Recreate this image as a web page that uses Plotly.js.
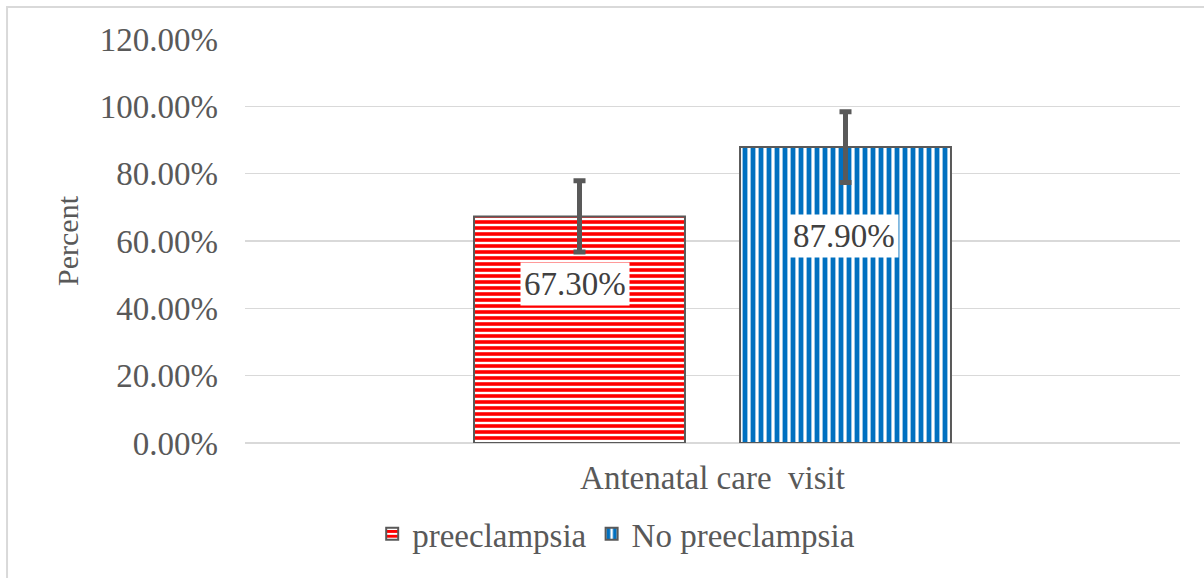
<!DOCTYPE html>
<html>
<head>
<meta charset="utf-8">
<script src="https://cdn.plot.ly/plotly-3.0.1.min.js"></script>
<style>html,body{margin:0;padding:0;background:#fff;}#chart{width:1204px;height:578px;}</style>
</head>
<body>
<div id="chart"></div>
<script>
const categories = ["Antenatal care\u00a0\u00a0visit"];
const seriesNames = ["preeclampsia", "No preeclampsia"];
const preeclampsia = [67.3];
const noPreeclampsia = [87.9];
const preeclampsiaErr = [10.6];
const noPreeclampsiaErr = [10.5];
const yTickVals = [0, 20, 40, 60, 80, 100, 120];
const yTickText = ["0.00%", "20.00%", "40.00%", "60.00%", "80.00%", "100.00%", "120.00%"];

const FONT = "Liberation Serif";
const GRAY = "#595959";
const FS = 33;

const traces = [
  {
    type: "bar", name: seriesNames[0], x: categories, y: preeclampsia,
    marker: {color: "#ffffff", line: {color: GRAY, width: 2},
      pattern: {shape: "-", fgcolor: "#ff0000", bgcolor: "#ffffff", size: 6, solidity: 0.6, fillmode: "replace"}},
    error_y: {type: "data", array: preeclampsiaErr, visible: true, color: GRAY, thickness: 5, width: 6},
    hoverinfo: "none"
  },
  {
    type: "bar", name: seriesNames[1], x: categories, y: noPreeclampsia,
    marker: {color: "#ffffff", line: {color: GRAY, width: 2},
      pattern: {shape: "|", fgcolor: "#0070c0", bgcolor: "#ffffff", size: 8, solidity: 0.6, fillmode: "replace"}},
    error_y: {type: "data", array: noPreeclampsiaErr, visible: true, color: GRAY, thickness: 5, width: 6},
    hoverinfo: "none"
  }
];

const values = [preeclampsia[0], noPreeclampsia[0]];
const annotations = values.map((v, i) => ({
  x: categories[0], y: v * 0.70, xref: "x", yref: "y",
  xshift: i === 0 ? -138 : 131,
  text: v.toFixed(2) + "%", showarrow: false,
  bgcolor: "#ffffff", borderpad: 3,
  font: {family: FONT, size: FS, color: "#404040"}
}));

const layout = {
  width: 1204, height: 578,
  margin: {l: 245, r: 24, t: 39, b: 135},
  paper_bgcolor: "#ffffff", plot_bgcolor: "#ffffff",
  font: {family: FONT, size: FS, color: GRAY},
  barmode: "group", bargap: 0.431, bargroupgap: 0.207,
  xaxis: {type: "category", showgrid: false, zeroline: false, showline: false,
    ticks: "", tickfont: {family: FONT, size: FS, color: GRAY}, ticklabelstandoff: 12},
  yaxis: {range: [0, 120], tickvals: yTickVals, ticktext: yTickText,
    showgrid: true, gridcolor: "#d9d9d9", gridwidth: 1.5, zeroline: true, zerolinecolor: "#d9d9d9", zerolinewidth: 1.5,
    showline: false, ticks: "", ticklabelstandoff: 26,
    tickfont: {family: FONT, size: FS, color: GRAY},
    title: {text: "Percent", font: {family: FONT, size: 30, color: GRAY}, standoff: 12}},
  showlegend: true,
  legend: {orientation: "h", x: 0.397, xanchor: "center", y: -0.225, yanchor: "middle",
    font: {family: FONT, size: FS, color: GRAY}, itemwidth: 30},
  annotations: annotations,
  shapes: [{type: "rect", xref: "paper", yref: "paper", x0: -0.2545, y0: -1, x1: 2, y1: 1.079,
    line: {color: "#d9d9d9", width: 2}, fillcolor: "rgba(0,0,0,0)"}]
};

Plotly.newPlot("chart", traces, layout, {staticPlot: true});
</script>
</body>
</html>
